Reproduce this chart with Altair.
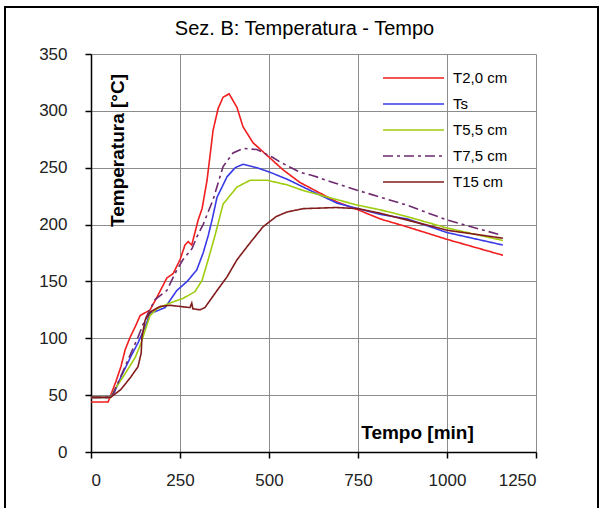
import altair as alt
import pandas as pd

series_names = ["T2,0 cm", "Ts", "T5,5 cm", "T7,5 cm", "T15 cm"]
series_colors = ["#f01e1e", "#3a3ae6", "#a0cc10", "#6e2a6e", "#821c1c"]
series_dash = [[1, 0], [1, 0], [1, 0], [10, 4, 3, 4], [1, 0]]

t_t2 = [0, 48, 53, 70, 84, 96, 110, 124, 138, 155, 166, 185, 213, 231, 250, 264, 273, 283, 292, 301, 312, 326, 343, 357, 371, 388, 410, 427, 455, 494, 540, 587, 690, 750, 812, 888, 1000, 1157]
v_t2 = [44, 44, 48, 62, 75, 90, 101, 110, 120, 123, 125, 136, 153, 157, 169, 182, 185, 182, 193, 204, 214, 239, 283, 302, 312, 315, 303, 286, 272, 261, 248, 237, 220, 213, 205, 198, 187, 173]

t_ts = [0, 50, 65, 84, 112, 132, 152, 166, 185, 208, 241, 270, 297, 315, 329, 340, 354, 382, 405, 427, 466, 503, 550, 596, 690, 750, 812, 888, 1000, 1157]
v_ts = [48, 48, 52, 66, 84, 96, 110, 122, 124, 127, 142, 150, 160, 175, 190, 204, 224, 242, 250, 253, 250, 246, 240, 233, 219, 214, 209, 205, 193, 182]

t_t55 = [0, 55, 67, 96, 124, 141, 152, 166, 185, 222, 258, 292, 312, 329, 348, 371, 410, 447, 494, 550, 596, 690, 750, 812, 888, 1000, 1157]
v_t55 = [48, 48, 55, 69, 83, 96, 107, 120, 126, 131, 135, 141, 151, 169, 190, 218, 233, 239, 239, 235, 230, 222, 217, 213, 207, 197, 186]

t_t75 = [0, 50, 60, 76, 104, 132, 146, 160, 180, 213, 236, 258, 284, 297, 315, 343, 371, 399, 427, 466, 511, 531, 587, 624, 680, 750, 888, 1000, 1149]
v_t75 = [48, 48, 50, 61, 81, 101, 112, 122, 134, 142, 157, 169, 179, 189, 200, 222, 251, 263, 267, 266, 259, 255, 246, 243, 237, 230, 217, 204, 191]

t_t15 = [0, 55, 84, 112, 132, 141, 143, 152, 166, 194, 222, 250, 278, 283, 286, 306, 320, 354, 382, 410, 447, 483, 520, 550, 596, 690, 750, 812, 888, 1000, 1157]
v_t15 = [48, 48, 55, 66, 75, 87, 101, 116, 123, 128, 129, 128, 127, 131, 126, 125, 127, 142, 154, 169, 184, 198, 207, 211, 214, 215, 214, 210, 204, 195, 188]

x_ticks = [0, 250, 500, 750, 1000, 1250]
y_ticks = [0, 50, 100, 150, 200, 250, 300, 350]

rows = []
for name, ts, vs in zip(series_names, [t_t2, t_ts, t_t55, t_t75, t_t15], [v_t2, v_ts, v_t55, v_t75, v_t15]):
    for i, (t, v) in enumerate(zip(ts, vs)):
        rows.append({"serie": name, "tempo": t, "temp": v, "idx": i})
df = pd.DataFrame(rows)

legend_cfg = alt.Legend(
    title=None, orient="none", legendX=291, legendY=14, padding=0,
    symbolType="stroke", symbolSize=3721, symbolStrokeWidth=1.5,
    clipHeight=20, rowPadding=6, labelOffset=8, labelFontSize=15,
    labelFont="Liberation Sans", labelColor="black",
)

lines = alt.Chart(df).mark_line(strokeWidth=1.6).encode(
    x=alt.X("tempo:Q", scale=alt.Scale(domain=[0, 1250], nice=False),
            axis=alt.Axis(values=x_ticks, format="d", title="Tempo [min]", titleX=326, titleY=-20,
                          titleAlign="center", titleBaseline="middle", titleAngle=0,
                          labelPadding=14)),
    y=alt.Y("temp:Q", scale=alt.Scale(domain=[0, 350], nice=False),
            axis=alt.Axis(values=y_ticks, format="d", title="Temperatura [°C]", titleX=26, titleY=96,
                          titleAngle=270, titleAlign="center", titleBaseline="middle",
                          labelPadding=18)),
    color=alt.Color("serie:N", scale=alt.Scale(domain=series_names, range=series_colors),
                    sort=series_names, legend=legend_cfg),
    strokeDash=alt.StrokeDash("serie:N", scale=alt.Scale(domain=series_names, range=series_dash),
                              sort=series_names, legend=legend_cfg),
    order="idx:Q",
)

frame = alt.Chart(pd.DataFrame({"a": [0]})).mark_rect(
    fill="white", fillOpacity=0, stroke="black", strokeWidth=2
).encode(x=alt.value(-86), x2=alt.value(507), y=alt.value(-47), y2=alt.value(470))

chart = alt.layer(lines, frame).properties(
    width=445, height=398,
    background="white",
    autosize=alt.AutoSizeParams(type="none"),
    padding={"left": 91, "top": 54, "right": 72, "bottom": 56},
    title=alt.TitleParams("Sez. B: Temperatura - Tempo", font="Liberation Sans",
                          fontSize=20, fontWeight="normal", color="black", anchor="middle",
                          dx=-9, dy=37),
).configure_view(stroke=None).configure_axis(
    grid=True, gridColor="#8c8c8c", gridWidth=1,
    domainColor="black", domainWidth=1.5, tickColor="black", tickWidth=1.5, tickSize=6,
    labelFont="Liberation Sans", labelFontSize=17, labelColor="#222",
    titleFont="Liberation Sans", titleFontSize=19, titleFontWeight="bold", titleColor="black",
)

chart.save("out.html", embed_options={"renderer": "svg", "actions": False})
